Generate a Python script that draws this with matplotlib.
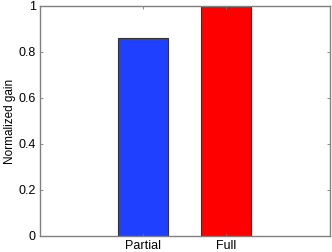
import matplotlib
matplotlib.use("Agg")
import matplotlib.pyplot as plt

categories = ["Partial", "Full"]
values = [0.862, 1.0]
colors = ["#1f40ff", "#ff0000"]
yticks = [0, 0.2, 0.4, 0.6, 0.8, 1]
ytick_labels = ["0", "0.2", "0.4", "0.6", "0.8", "1"]

plt.rcParams['font.family'] = ['Liberation Sans', 'DejaVu Sans']
fig = plt.figure(figsize=(3.32, 2.52), dpi=100)
ax = fig.add_axes([40/332, 16/252, 290/332, 230/252])
x = [1, 2]
ax.bar(x, values, width=0.6, color=colors, edgecolor="#333333", linewidth=0.8)
ax.set_xlim(-0.24, 3.25)
ax.set_ylim(0, 1)
ax.set_xticks(x)
ax.set_xticklabels(categories)
ax.set_yticks(yticks)
ax.set_yticklabels(ytick_labels)
ax.set_ylabel("Normalized gain", fontsize=8.5, labelpad=2)
ax.tick_params(direction="in", length=2.5, width=0.6, color="#777777", labelsize=9, pad=3,
               top=True, right=True)
for s in ax.spines.values():
    s.set_color("#808080")
    s.set_linewidth(1.0)
fig.savefig("out.png", dpi=100)
